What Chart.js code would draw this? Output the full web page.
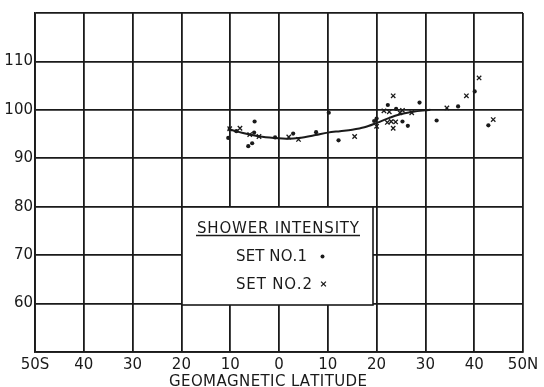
<!DOCTYPE html>
<html>
<head>
<meta charset="utf-8">
<script src="https://cdn.jsdelivr.net/npm/chart.js@4/dist/chart.umd.min.js"></script>
<style>
html,body{margin:0;padding:0;background:#fff;}
#wrap{width:544px;height:387px;}
</style>
</head>
<body>
<div id="wrap"><canvas id="c" width="544" height="387"></canvas></div>
<script>
// Data
const set1Lat = [-10.4,-8.75,-5.0,-5.1,-6.3,-5.5,-0.8,2.9,7.6,10.2,12.2,22.3,28.8,24.0,20.0,19.5,25.3,26.4,32.3,36.7,40.1,42.9];
const set1Val = [94.2,95.6,97.6,95.3,92.5,93.1,94.3,95.1,95.4,99.4,93.7,101.0,101.5,100.2,98.2,97.7,97.6,96.7,97.8,100.7,103.8,96.8];
const set2Lat = [-10.1,-8.0,-6.0,-4.1,2.0,4.0,15.5,23.4,21.5,22.6,24.8,25.3,27.2,20.0,22.2,23.0,23.9,23.4,34.4,38.4,41.0,43.9];
const set2Val = [96.1,96.2,94.9,94.5,94.4,93.9,94.5,102.9,99.8,99.6,99.4,99.9,99.4,96.6,97.4,97.6,97.5,96.2,100.4,102.9,106.6,98.0];
const curveLat = [-10.5,-8.5,-6,-4,-1,2,4,7.5,10,12.5,15,17.5,20,22.5,24.5,27.5,30,31];
const curveVal = [96.1,95.5,94.9,94.5,94.2,94.05,94.2,94.8,95.3,95.6,95.9,96.4,97.3,98.3,99.0,99.6,99.9,100];
const xTicks = [-50,-40,-30,-20,-10,0,10,20,30,40,50];
const yTicks = [60,70,80,90,100,110];
const xTitle = 'GEOMAGNETIC LATITUDE';
const legendTitle = 'SHOWER INTENSITY';
const legendItems = ['SET NO.1','SET NO.2'];

const ink = '#1a1a1a';
const FONT = '"DejaVu Sans", sans-serif';
const pts = (xs, ys) => xs.map((x, i) => ({x: x, y: ys[i]}));

function spaced(ctx, text, x, y, target) {
  const chars = [...text];
  let w = 0;
  const ws = chars.map(c => { const m = ctx.measureText(c).width; w += m; return m; });
  const gap = target && chars.length > 1 ? (target - w) / (chars.length - 1) : 0;
  let cx = x;
  chars.forEach((c, i) => { ctx.fillText(c, cx, y); cx += ws[i] + gap; });
  return cx - gap;
}

const overlay = {
  id: 'overlay',
  afterDraw(chart) {
    const ctx = chart.ctx;
    ctx.save();
    // axis title
    ctx.fillStyle = ink;
    ctx.font = '15px ' + FONT;
    ctx.textBaseline = 'alphabetic';
    ctx.textAlign = 'left';
    spaced(ctx, xTitle, 169, 386, 198);
    // legend box
    ctx.fillStyle = '#fff';
    ctx.fillRect(182, 207, 191, 98);
    ctx.strokeStyle = ink;
    ctx.lineWidth = 1.6;
    ctx.strokeRect(182, 207, 191, 98);
    ctx.fillStyle = ink;
    ctx.font = '15px ' + FONT;
    const end = spaced(ctx, legendTitle, 197, 233, 162);
    ctx.lineWidth = 1.3;
    ctx.beginPath(); ctx.moveTo(196, 235.5); ctx.lineTo(end + 1, 235.5); ctx.stroke();
    spaced(ctx, legendItems[0], 236, 261, 71);
    spaced(ctx, legendItems[1], 236, 289, 76);
    // markers
    ctx.beginPath(); ctx.arc(322.5, 256.5, 2.0, 0, Math.PI * 2); ctx.fill();
    ctx.lineWidth = 1.3;
    const mx = 323.5, my = 284, r = 2.4;
    ctx.beginPath();
    ctx.moveTo(mx - r, my - r); ctx.lineTo(mx + r, my + r);
    ctx.moveTo(mx + r, my - r); ctx.lineTo(mx - r, my + r);
    ctx.stroke();
    ctx.restore();
  }
};

new Chart(document.getElementById('c'), {
  type: 'scatter',
  data: {
    datasets: [
      {
        label: 'curve', data: pts(curveLat, curveVal), showLine: true,
        borderColor: ink, borderWidth: 2, pointRadius: 0,
        tension: 0.4, cubicInterpolationMode: 'monotone', fill: false
      },
      {
        label: legendItems[0], data: pts(set1Lat, set1Val),
        pointStyle: 'circle', pointRadius: 2.1, backgroundColor: ink, borderColor: ink, borderWidth: 0
      },
      {
        label: legendItems[1], data: pts(set2Lat, set2Val),
        pointStyle: 'crossRot', pointRadius: 3.1, borderColor: ink, borderWidth: 1.3, backgroundColor: ink
      }
    ]
  },
  options: {
    responsive: false,
    animation: false,
    devicePixelRatio: 1,
    layout: {padding: {top: 13, right: 21, left: 0, bottom: 0}},
    plugins: {legend: {display: false}, tooltip: {enabled: false}, title: {display: false}},
    scales: {
      x: {
        type: 'linear', min: -50, max: 50,
        afterBuildTicks: s => { s.ticks = xTicks.map(v => ({value: v})); },
        afterFit: s => { s.height = 35; },
        ticks: {
          color: ink, font: {family: FONT, size: 15}, padding: 4, maxRotation: 0, autoSkip: false,
          callback: v => v === -50 ? '50S' : (v === 50 ? '50N' : String(Math.abs(v)))
        },
        grid: {color: ink, lineWidth: 1.8, drawTicks: false},
        border: {color: ink, width: 1.8}
      },
      y: {
        min: 50, max: 120,
        afterBuildTicks: s => { s.ticks = [50].concat(yTicks, [120]).map(v => ({value: v})); },
        afterFit: s => { s.width = 35; },
        ticks: {
          color: ink, font: {family: FONT, size: 15}, padding: 2,
          callback: v => yTicks.includes(v) ? String(v) : ''
        },
        grid: {color: ink, lineWidth: 1.8, drawTicks: false},
        border: {color: ink, width: 1.8}
      }
    }
  },
  plugins: [overlay]
});
</script>
</body>
</html>
